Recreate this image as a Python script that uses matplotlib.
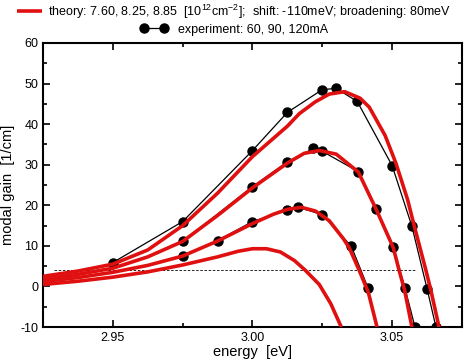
import numpy as np
import matplotlib.pyplot as plt
from matplotlib.ticker import MultipleLocator

plt.rcParams['font.family'] = ['Liberation Sans', 'DejaVu Sans']
plt.rcParams['mathtext.fontset'] = 'custom'
plt.rcParams['mathtext.rm'] = 'Liberation Sans'
plt.rcParams['axes.unicode_minus'] = False

# experiment (black dots): 120, 90, 60 mA
e_120 = [2.95, 2.975, 3.00, 3.0125, 3.025, 3.03, 3.0375, 3.05, 3.0571, 3.0625, 3.0657]
g_120 = [5.9, 16.0, 33.5, 42.9, 48.5, 48.8, 45.6, 29.8, 14.8, -0.5, -10.0]
e_90 = [2.975, 3.00, 3.0125, 3.0218, 3.025, 3.0379, 3.0443, 3.0504, 3.0546, 3.0582]
g_90 = [11.1, 24.6, 30.7, 34.0, 33.3, 28.3, 19.2, 9.8, -0.4, -10.0]
e_60 = [2.975, 2.9875, 3.00, 3.0125, 3.0164, 3.025, 3.0354, 3.0414]
g_60 = [7.4, 11.3, 16.0, 18.8, 19.5, 17.7, 9.9, -0.4]

# theory (red curves)
e_a = [2.925, 2.9375, 2.95, 2.9625, 2.975, 2.9875, 3.0, 3.0125, 3.0168, 3.0225, 3.0275,
       3.033, 3.0385, 3.0418, 3.0475, 3.0514, 3.0555, 3.0579, 3.0621, 3.0639, 3.0668]
g_a = [2.5, 3.8, 5.5, 9.0, 15.0, 23.0, 32.0, 39.5, 42.6, 45.5, 47.4,
       48.0, 46.4, 44.2, 37.2, 30.3, 21.5, 15.0, 4.0, -1.0, -10.0]
e_b = [2.925, 2.9375, 2.95, 2.9625, 2.975, 2.9875, 3.0, 3.0125, 3.0185, 3.024, 3.03,
       3.0379, 3.0443, 3.0504, 3.0525, 3.0545, 3.0571]
g_b = [1.8, 3.0, 4.5, 7.3, 11.1, 17.5, 24.3, 30.4, 32.8, 33.5, 32.6,
       28.2, 19.0, 9.6, 4.0, -1.0, -10.0]
e_c = [2.925, 2.9375, 2.95, 2.9625, 2.975, 2.9875, 3.0, 3.0075, 3.0125, 3.0175, 3.0225,
       3.0275, 3.0325, 3.0346, 3.0382, 3.0415, 3.0446]
g_c = [1.2, 2.2, 3.5, 5.2, 7.5, 11.2, 15.5, 17.8, 19.0, 19.5, 18.6,
       16.2, 11.8, 9.6, 4.0, -1.5, -10.0]
e_d = [2.925, 2.9375, 2.95, 2.9625, 2.975, 2.9875, 2.995, 3.0, 3.005, 3.01, 3.015,
       3.0189, 3.0239, 3.028, 3.0318]
g_d = [0.5, 1.3, 2.3, 3.6, 5.3, 7.3, 8.7, 9.3, 9.3, 8.5, 6.4,
       4.0, 0.5, -4.2, -10.0]

# threshold line
thr_level = 4.0
thr_start, thr_end = 2.929, 3.0586

fig = plt.figure(figsize=(4.68, 3.61), dpi=100)
ax = fig.add_axes([0.092, 0.094, 0.895, 0.787])

exp_style = dict(color='black', lw=0.9, marker='o', ms=6.5, zorder=2)
ax.plot(e_120, g_120, **exp_style)
ax.plot(e_90, g_90, **exp_style)
exp_line, = ax.plot(e_60, g_60, **exp_style)

red = '#e01010'
for e, g in [(e_a, g_a), (e_b, g_b), (e_c, g_c), (e_d, g_d)]:
    th_line, = ax.plot(e, g, color=red, lw=2.6, zorder=3, solid_capstyle='butt')

ax.hlines(thr_level, thr_start, thr_end, colors='black', linestyles=(0, (3, 2)), lw=0.6, zorder=1)

ax.set_xlim(2.925, 3.075)
ax.set_ylim(-10, 60)
ax.xaxis.set_major_locator(MultipleLocator(0.05))
ax.xaxis.set_minor_locator(MultipleLocator(0.025))
ax.yaxis.set_major_locator(MultipleLocator(10))
ax.yaxis.set_minor_locator(MultipleLocator(5))
ax.set_xticks([2.95, 3.00, 3.05])
ax.set_xticklabels(['2.95', '3.00', '3.05'])
ax.tick_params(which='both', direction='in', top=True, right=True, labelsize=9, width=1.2)
ax.tick_params(which='major', length=5)
ax.tick_params(which='minor', length=3)
for s in ax.spines.values():
    s.set_linewidth(1.5)

ax.set_xlabel('energy  [eV]', fontsize=10.5, labelpad=1)
ax.set_ylabel('modal gain  [1/cm]', fontsize=10.5, labelpad=4)

fig.legend([th_line], ['theory: 7.60, 8.25, 8.85  [10$^{12}$cm$^{-2}$];  shift: -110meV; broadening: 80meV'],
           loc='center', bbox_to_anchor=(0.5, 0.968), frameon=False, fontsize=9,
           handlelength=2.0, handletextpad=0.5, borderpad=0)
fig.legend([exp_line], ['experiment: 60, 90, 120mA'],
           loc='center', bbox_to_anchor=(0.5, 0.918), frameon=False, fontsize=9,
           numpoints=2, handlelength=2.2, handletextpad=0.8, borderpad=0)

fig.savefig('out.png', dpi=100)
